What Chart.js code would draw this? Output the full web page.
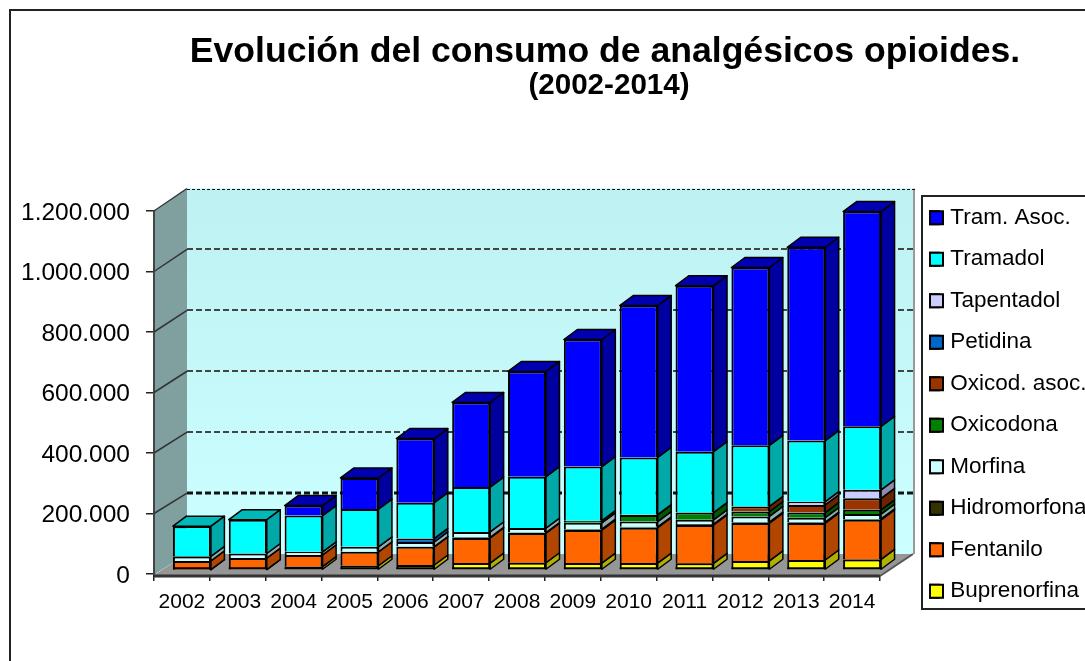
<!DOCTYPE html>
<html><head><meta charset="utf-8">
<style>html,body{margin:0;padding:0;background:#fff;overflow:hidden}canvas{display:block}</style>
<script src="https://cdn.jsdelivr.net/npm/chart.js@4"></script>
</head><body><canvas id="c" width="1085" height="661"></canvas>
<script>
const years = ['2002','2003','2004','2005','2006','2007','2008','2009','2010','2011','2012','2013','2014'];
const buprenorfina = [1000,1500,11000,14000,16500,23000,24000,23000,23000,22000,30000,33000,35000];
const fentanilo    = [29000,38000,39000,46000,60000,83000,98000,109000,117000,127000,125000,122000,131000];
const hidromorfona = [0,0,0,0,1000,2000,2000,3000,3000,3000,3000,3000,3000];
const morfina      = [15000,15000,10000,16500,15000,18000,14500,21000,17000,14000,19000,15000,16000];
const oxicodona    = [0,0,0,0,0,0,0,7000,22000,24000,16000,17000,14000];
const oxicodAsoc   = [0,0,0,0,0,0,0,0,1000,0,17000,25000,38000];
const petidina     = [0,0,0,0,12000,0,0,0,0,0,0,0,0];
const tapentadol   = [0,0,0,0,0,0,0,0,0,0,0,11000,28000];
const tramadol     = [100000,112000,120000,125000,118000,148000,170000,179000,189000,201000,202000,202000,210000];
const tramAsoc     = [0,0,33000,103000,212000,280000,348000,420000,502000,549000,588000,639000,710000];
const yTicks = {0:'0',200000:'200.000',400000:'400.000',600000:'600.000',800000:'800.000',1000000:'1.000.000',1200000:'1.200.000'};

const FONT = '"Liberation Sans", Arial, sans-serif';
const mk = (label, data, c, side, top) => ({label, data, backgroundColor:c, borderColor:'#000', borderWidth:2,
  borderSkipped:'bottom', clip:false, side, top});

const BAR_DX = 10, BAR_DY = -4, DEPTH_X = 13.5, DEPTH_Y = 10;
const LEG_PAD = 19, LEG_FONT = 22.5, LEG_LEFT = 911, LEG_TOP = 187.5, LEG_BOX = 13;

const scene = {
  id:'scene',
  beforeDraw(chart){
    const c = chart.ctx;
    c.save();
    c.fillStyle='#fff'; c.fillRect(0,0,chart.width,chart.height);
    c.strokeStyle='#222'; c.lineWidth=2;
    c.beginPath(); c.moveTo(10,661); c.lineTo(10,10); c.lineTo(1085,10); c.stroke();
    c.lineWidth=2; c.strokeStyle='#222';
    c.beginPath(); c.moveTo(1085,196); c.lineTo(922,196); c.lineTo(922,609); c.lineTo(1085,609); c.stroke();
    c.restore();
  },
  afterLayout(chart){
    const lg = chart.legend;
    lg.left = LEG_LEFT; lg.right = 1085; lg.top = LEG_TOP; lg.bottom = 640;
    const titles = chart.boxes.filter(b => b.options && typeof b.options.text === 'string');
    titles.forEach((b,i) => { const s = i === 0 ? 84 : 80; b.left += s; b.right += s; });
  },
  beforeDatasetsDraw(chart){
    const c = chart.ctx, a = chart.chartArea, y = chart.scales.y;
    const bx = a.left + 33, br = a.right + 33;
    const backY = v => y.getPixelForValue(v) - 20 - 2.5*v/1200000;
    const y0 = backY(0), yT = backY(1200000);
    c.save();
    const g = c.createLinearGradient(0,yT,0,y0);
    g.addColorStop(0,'#BEF2F2'); g.addColorStop(1,'#CCFFFF');
    c.fillStyle = g; c.fillRect(bx,yT,br-bx,y0-yT);
    c.fillStyle='#80A0A0';
    c.beginPath(); c.moveTo(a.left+1,a.bottom); c.lineTo(bx,y0); c.lineTo(bx,yT); c.lineTo(a.left+1,a.top); c.closePath(); c.fill();
    c.fillStyle='#969696';
    c.beginPath(); c.moveTo(a.left,a.bottom+1); c.lineTo(a.right,a.bottom+1); c.lineTo(br,y0); c.lineTo(bx,y0); c.closePath(); c.fill();
    c.strokeStyle='#999'; c.lineWidth=2;
    c.beginPath(); c.moveTo(br+1,yT); c.lineTo(br+1,y0); c.stroke();
    for (const t of y.ticks) {
      if (t.value === 0) continue;
      const yb = backY(t.value), yf = y.getPixelForValue(t.value);
      const strong = t.value === 200000, top = t.value === 1200000;
      c.setLineDash([]);
      c.strokeStyle = '#333'; c.lineWidth = 1.5;
      c.beginPath(); c.moveTo(a.left,yf); c.lineTo(bx,yb); c.stroke();
      c.setLineDash(top ? [3,2] : [6,3]);
      c.strokeStyle = strong || top ? '#111' : '#444';
      c.lineWidth = strong ? 3 : top ? 1 : 2;
      c.beginPath(); c.moveTo(bx,Math.round(yb)+(top?0.5:0)); c.lineTo(br+2,Math.round(yb)+(top?0.5:0)); c.stroke();
    }
    c.setLineDash([]);
    c.strokeStyle='#333'; c.lineWidth=3;
    c.beginPath(); c.moveTo(a.left,a.bottom+2); c.lineTo(a.right,a.bottom+2); c.stroke();
    c.strokeStyle='#555'; c.lineWidth=2;
    c.beginPath(); c.moveTo(a.right,a.bottom+2); c.lineTo(br,y0); c.stroke();
    c.restore();
    c.save(); c.translate(BAR_DX,BAR_DY);
  },
  afterDatasetsDraw(chart){
    const c = chart.ctx, n = chart.data.labels.length, N = chart.data.datasets.length;
    c.lineJoin='round';
    for (let i=0;i<n;i++){
      let lastIdx = -1, firstEl = null;
      for (let d=0;d<N;d++){
        if (!chart.data.datasets[d].data[i]) continue;
        lastIdx = d;
        const el = chart.getDatasetMeta(d).data[i], ds = chart.data.datasets[d];
        if (!firstEl) firstEl = el;
        const r = el.x + el.width/2;
        c.fillStyle = ds.side; c.strokeStyle='#000'; c.lineWidth=1.5;
        c.beginPath(); c.moveTo(r,el.base); c.lineTo(r+DEPTH_X,el.base-DEPTH_Y);
        c.lineTo(r+DEPTH_X,el.y-DEPTH_Y); c.lineTo(r,el.y); c.closePath(); c.fill(); c.stroke();
      }
      if (lastIdx>=0){
        const el = chart.getDatasetMeta(lastIdx).data[i], ds = chart.data.datasets[lastIdx];
        const l = el.x - el.width/2, r = el.x + el.width/2;
        c.fillStyle = ds.top; c.strokeStyle='#000'; c.lineWidth=1.5;
        c.beginPath(); c.moveTo(l,el.y); c.lineTo(l+DEPTH_X,el.y-DEPTH_Y); c.lineTo(r+DEPTH_X,el.y-DEPTH_Y); c.lineTo(r,el.y); c.closePath(); c.fill(); c.stroke();
        // closing edge at the foot of the stack
        c.strokeStyle='#000'; c.lineWidth=2;
        c.beginPath(); c.moveTo(l,firstEl.base-1); c.lineTo(r,firstEl.base-1); c.stroke();
      }
    }
    c.restore();
  },
  afterDraw(chart){
    // square legend keys over the narrow native keys
    const c = chart.ctx, items = chart.legend.legendItems;
    c.save();
    items.forEach((it,i)=>{
      const x = LEG_LEFT + LEG_PAD, yy = LEG_TOP + LEG_PAD + i*(LEG_FONT+LEG_PAD) + LEG_FONT/2 - LEG_BOX/2;
      c.fillStyle = it.fillStyle; c.strokeStyle='#000'; c.lineWidth=2;
      c.fillRect(x,yy,LEG_BOX,LEG_BOX); c.strokeRect(x,yy,LEG_BOX,LEG_BOX);
    });
    c.restore();
  }
};

new Chart(document.getElementById('c'), {
  type:'bar',
  data:{ labels:years, datasets:[
    mk('Buprenorfina',buprenorfina,'#FFFF00','#B0B000','#C0C000'),
    mk('Fentanilo',fentanilo,'#FF6600','#B04600','#C05000'),
    mk('Hidromorfona',hidromorfona,'#333300','#232300','#282800'),
    mk('Morfina',morfina,'#CCFFFF','#8CB0B0','#9CC0C0'),
    mk('Oxicodona',oxicodona,'#008000','#005800','#006000'),
    mk('Oxicod. asoc.',oxicodAsoc,'#993300','#6A2300','#762800'),
    mk('Petidina',petidina,'#0066CC','#00468C','#00509C'),
    mk('Tapentadol',tapentadol,'#CCCCFF','#8C8CB0','#9C9CC0'),
    mk('Tramadol',tramadol,'#00FFFF','#00A8A8','#00B8B8'),
    mk('Tram. Asoc.',tramAsoc,'#0000FF','#0000A0','#0000B0')
  ]},
  options:{
    responsive:false, animation:false, devicePixelRatio:1,
    layout:{padding:{right:35}},
    datasets:{bar:{categoryPercentage:1,barPercentage:0.68}},
    scales:{
      x:{stacked:true, offset:true,
        afterFit(s){s.height=87;},
        border:{display:false},
        grid:{drawOnChartArea:false, drawTicks:true, tickLength:7, color:'#222', lineWidth:1.5, offset:true},
        ticks:{color:'#000',font:{family:FONT,size:21},padding:9,maxRotation:0,autoSkip:false}},
      y:{stacked:true, min:0, max:1200000,
        afterFit(s){s.width=154;},
        border:{display:true,color:'#444',width:3},
        grid:{drawOnChartArea:false, tickLength:8, color:'#222', lineWidth:1.5},
        ticks:{stepSize:200000,color:'#000',font:{family:FONT,size:24.5},padding:16,labelOffset:2,callback:v=>yTicks[v]}}
    },
    plugins:{
      title:{display:true,text:'Evolución del consumo de analgésicos opioides.',color:'#000',
        font:{family:FONT,size:35.6,weight:'bold',lineHeight:1},padding:{top:34,bottom:0}},
      subtitle:{display:true,text:'(2002-2014)',color:'#000',
        font:{family:FONT,size:29.6,weight:'bold',lineHeight:1},padding:{top:1,bottom:110.8}},
      legend:{display:true,position:'right',align:'start',maxWidth:170,reverse:true,
        labels:{boxWidth:9,boxHeight:13,padding:LEG_PAD,color:'#000',font:{family:FONT,size:LEG_FONT},
          generateLabels(chart){
            return chart.data.datasets.map((d,i)=>({text:d.label,fillStyle:d.backgroundColor,strokeStyle:'#000',lineWidth:2,datasetIndex:i,hidden:false}));
          }}},
      tooltip:{enabled:false}
    }
  },
  plugins:[scene]
});
</script></body></html>
